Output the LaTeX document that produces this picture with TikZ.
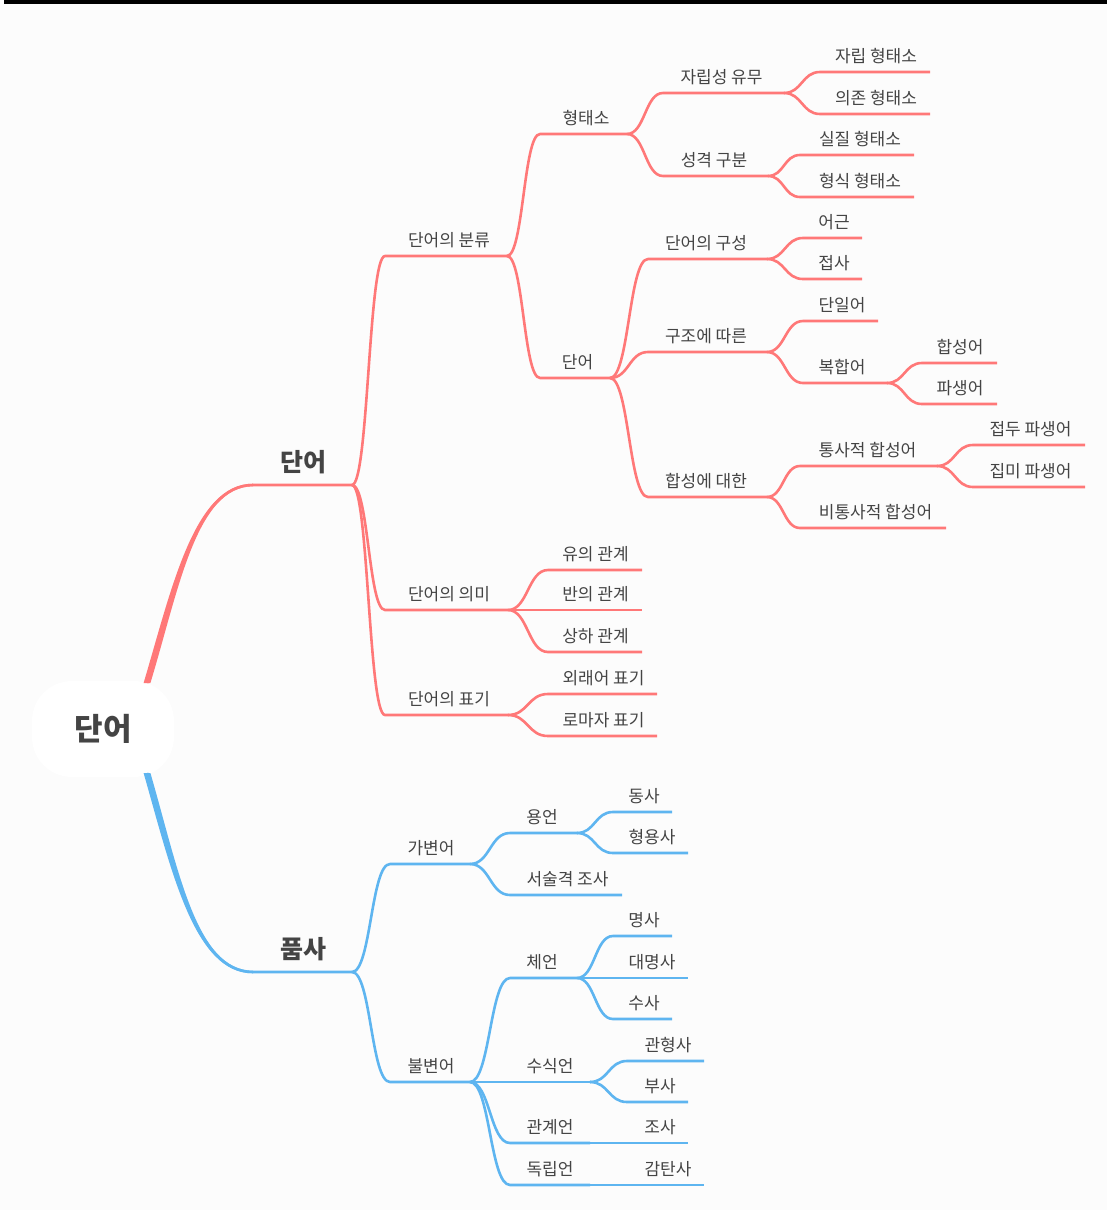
\documentclass[tikz,border=0pt]{standalone}
\usepackage{fontspec}
\setmainfont{Noto Sans CJK KR}
\usetikzlibrary{calc}
\definecolor{mmred}{RGB}{255,120,120}
\definecolor{mmblue}{RGB}{94,181,240}
\definecolor{mmtext}{RGB}{68,68,68}
\definecolor{mmbg}{RGB}{252,252,252}
\colorlet{brc}{mmred}
% #1 name, #2 parent, #3 line start x, #4 line end x, #5 y, #6 text centre x, #7 text
\newcommand\mmbr[7]{%
  \coordinate (#1-s) at (#3,#5);
  \coordinate (#1) at (#4,#5);
  \draw[mmline] let \p1=(#2), \p2=(#1-s) in
    (#2) .. controls ({(\x1+\x2)/2},\y1) and ({(\x1+\x2)/2},\y2) .. (#1-s) -- (#1);
  \node[mmlbl, anchor=base] (#1-t) at (#6,#5-10) {#7};
}
\begin{document}
\begin{tikzpicture}[x=1pt,y=-1pt,
  mmline/.style={draw=brc, line width=2.6pt, line join=round},
  mmlbl/.style={font=\fontsize{17}{20}\selectfont, text=mmtext, inner sep=0pt},
  lvlone/.style={font=\fontsize{25}{29}\selectfont\bfseries, text=mmtext, inner sep=0pt, anchor=base},
  rootblob/.style={fill=white, rounded corners=40pt, minimum width=142pt, minimum height=96pt,
    font=\fontsize{31}{36}\selectfont\bfseries, text=mmtext, inner sep=0pt}]
\useasboundingbox (0,0) rectangle (1107,1210);
\fill[mmbg] (0,0) rectangle (1107,1210);
\fill[black] (4,0) rectangle (1107,4);

\node[rootblob] (root) at (103,729) {단어};
\coordinate (rootN) at (147,683);
\coordinate (rootS) at (147,773);

% ---------- red branch ----------
\colorlet{brc}{mmred}
\coordinate (w-s) at (253,485);
\coordinate (w) at (352,485);
\fill[brc] ($(rootN)+(-3.4,0)$) .. controls (171.6,589) and (194,483.7) .. ($(w-s)+(0,-1.3)$)
  -- ($(w-s)+(0,1.3)$) .. controls (196,486.3) and (178.4,591) .. ($(rootN)+(3.4,0)$) -- cycle;
\draw[mmline] (rootN) .. controls (175,590) and (195,485) .. (w-s) -- (w);
\node[lvlone] (w-t) at (303,471) {단어};

\mmbr{bunryu}{w}{385}{507}{256}{449}{단어의 분류}
\mmbr{hts}{bunryu}{540}{627}{134}{586}{형태소}
\mmbr{jrs}{hts}{663}{784}{93}{721.5}{자립성 유무}
\mmbr{jrh}{jrs}{820}{930}{72}{876}{자립 형태소}
\mmbr{ujh}{jrs}{820}{930}{114}{876}{의존 형태소}
\mmbr{sgg}{hts}{663}{768}{176}{714}{성격 구분}
\mmbr{sjh}{sgg}{800}{914}{155}{860}{실질 형태소}
\mmbr{hsh}{sgg}{800}{914}{197}{860}{형식 형태소}
\mmbr{daneo}{bunryu}{540}{610}{378}{577.5}{단어}
\mmbr{gs}{daneo}{648}{767}{259}{706}{단어의 구성}
\mmbr{egn}{gs}{803}{862}{238}{834}{어근}
\mmbr{jsa}{gs}{803}{862}{279}{834}{접사}
\mmbr{gj}{daneo}{648}{767}{352}{706}{구조에 따른}
\mmbr{dil}{gj}{803}{878}{321}{842}{단일어}
\mmbr{bha}{gj}{803}{887}{383}{842}{복합어}
\mmbr{hsa}{bha}{922}{997}{363}{960}{합성어}
\mmbr{psa}{bha}{922}{997}{404}{960}{파생어}
\mmbr{hsd}{daneo}{648}{767}{497}{706}{합성에 대한}
\mmbr{tsh}{hsd}{800}{937}{466}{867.5}{통사적 합성어}
\mmbr{jdp}{tsh}{973}{1085}{445}{1030.5}{접두 파생어}
\mmbr{jmp}{tsh}{973}{1085}{487}{1030.5}{집미 파생어}
\mmbr{btsh}{hsd}{800}{946}{528}{875.5}{비통사적 합성어}
\mmbr{uimi}{w}{385}{508}{610}{449}{단어의 의미}
\mmbr{yu}{uimi}{548}{642}{570}{595.5}{유의 관계}
\mmbr{ban}{uimi}{548}{642}{610}{595.5}{반의 관계}
\mmbr{sh}{uimi}{548}{642}{652}{595.5}{상하 관계}
\mmbr{pyo}{w}{385}{508}{715}{449}{단어의 표기}
\mmbr{wr}{pyo}{548}{657}{694}{603.5}{외래어 표기}
\mmbr{rm}{pyo}{548}{657}{736}{603.5}{로마자 표기}

% ---------- blue branch ----------
\colorlet{brc}{mmblue}
\coordinate (p-s) at (253,972);
\coordinate (p) at (352,972);
\fill[brc] ($(rootS)+(-3.4,0)$) .. controls (171.6,871) and (194,973.3) .. ($(p-s)+(0,1.3)$)
  -- ($(p-s)+(0,-1.3)$) .. controls (196,970.7) and (178.4,869) .. ($(rootS)+(3.4,0)$) -- cycle;
\draw[mmline] (rootS) .. controls (175,870) and (195,972) .. (p-s) -- (p);
\node[lvlone] (p-t) at (303,958) {품사};

\mmbr{gb}{p}{390}{470}{864}{431}{가변어}
\mmbr{yong}{gb}{510}{577}{833}{542}{용언}
\mmbr{dong}{yong}{613}{672}{812}{644}{동사}
\mmbr{hyong}{yong}{613}{688}{853}{652}{형용사}
\mmbr{ssg}{gb}{510}{622}{895}{567.5}{서술격 조사}
\mmbr{bb}{p}{390}{470}{1082}{431}{불변어}
\mmbr{che}{bb}{510}{577}{978}{542}{체언}
\mmbr{myeong}{che}{613}{672}{936}{644}{명사}
\mmbr{dm}{che}{613}{688}{978}{652}{대명사}
\mmbr{su}{che}{613}{672}{1019}{644}{수사}
\mmbr{ssk}{bb}{490}{590}{1082}{550}{수식언}
\mmbr{ghs}{ssk}{627}{704}{1061}{668}{관형사}
\mmbr{bs}{ssk}{627}{688}{1102}{660}{부사}
\mmbr{ggu}{bb}{510}{590}{1143}{550}{관계언}
\mmbr{josa}{ggu}{627}{688}{1143}{660}{조사}
\mmbr{dri}{bb}{510}{590}{1185}{550}{독립언}
\mmbr{gts}{dri}{627}{704}{1185}{668}{감탄사}
\end{tikzpicture}
\end{document}
